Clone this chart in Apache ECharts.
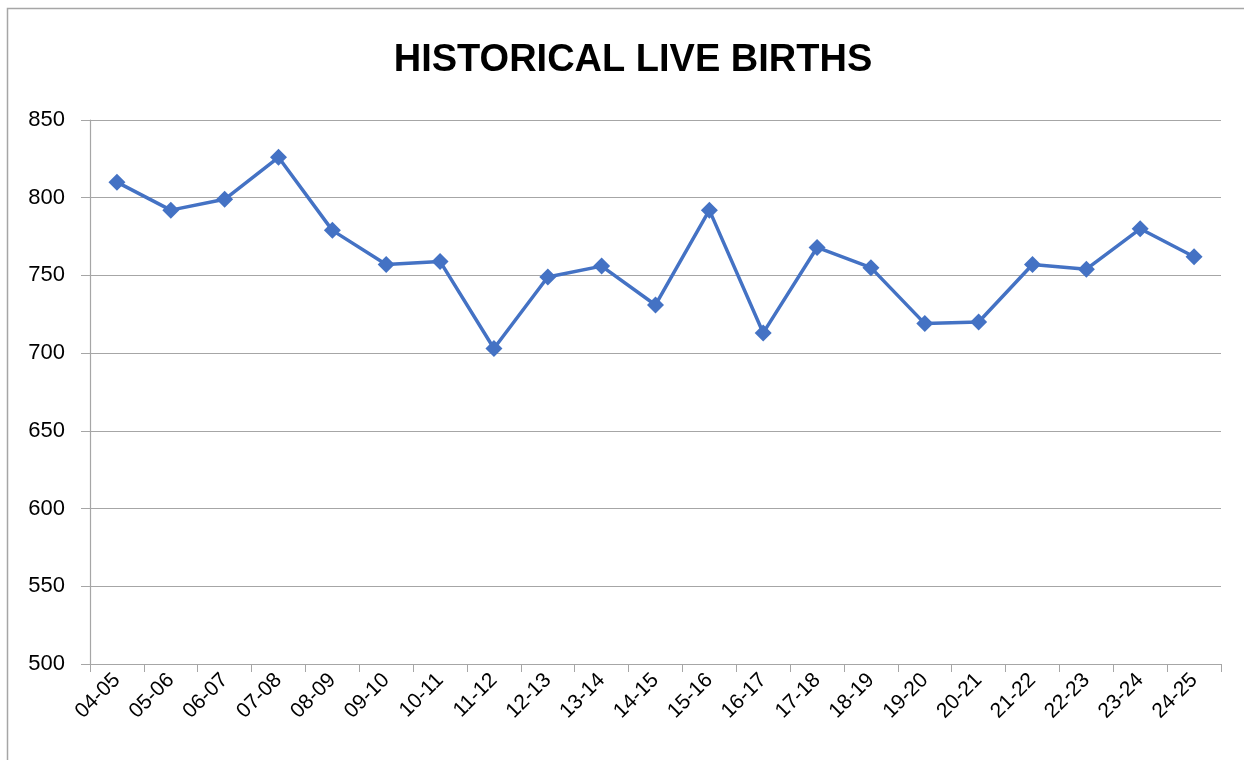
<!DOCTYPE html>
<html>
<head>
<meta charset="utf-8">
<script src="https://cdn.jsdelivr.net/npm/echarts@6/dist/echarts.min.js"></script>
<style>
  html, body { margin: 0; padding: 0; background: #fff; }
  #chart { width: 1244px; height: 760px; }
</style>
</head>
<body>
<div id="chart"></div>
<script>
// school years
const years = ['04-05', '05-06', '06-07', '07-08', '08-09', '09-10', '10-11', '11-12', '12-13', '13-14',
  '14-15', '15-16', '16-17', '17-18', '18-19', '19-20', '20-21', '21-22', '22-23', '23-24', '24-25'];
// live births per year
const births = [810, 792, 799, 826, 779, 757, 759, 703, 749, 756,
  731, 792, 713, 768, 755, 719, 720, 757, 754, 780, 762];
const yTicks = {min: 500, max: 850, step: 50};

const chart = echarts.init(document.getElementById('chart'), null, {renderer: 'canvas'});
const font = '"Liberation Sans", "Open Sans", sans-serif';

chart.setOption({
  animation: false,
  title: {
    text: 'HISTORICAL LIVE BIRTHS',
    left: 628,
    top: 37,
    textAlign: 'center',
    textStyle: {fontFamily: font, fontSize: 38, fontWeight: 'bold', color: '#000'}
  },
  graphic: [{
    type: 'rect',
    shape: {x: 7.5, y: 8.5, width: 1300, height: 800},
    style: {fill: 'none', stroke: '#a6a6a6', lineWidth: 1.5},
    silent: true
  }],
  grid: {left: 90, right: 23, top: 120, bottom: 96, containLabel: false},
  xAxis: {
    type: 'category',
    data: years,
    boundaryGap: true,
    axisLine: {lineStyle: {color: '#a6a6a6', width: 1.2}},
    axisTick: {show: true, length: 8, alignWithLabel: false, lineStyle: {color: '#a6a6a6'}},
    axisLabel: {rotate: 45, fontFamily: font, fontSize: 21, color: '#000', margin: 13, interval: 0}
  },
  yAxis: {
    type: 'value',
    min: yTicks.min,
    max: yTicks.max,
    interval: yTicks.step,
    axisLine: {show: true, lineStyle: {color: '#a6a6a6', width: 1.2}},
    axisTick: {show: true, length: 9, lineStyle: {color: '#a6a6a6'}},
    axisLabel: {fontFamily: font, fontSize: 22, color: '#000', margin: 25},
    splitLine: {lineStyle: {color: '#a6a6a6', width: 1.2}}
  },
  series: [{
    type: 'line',
    data: births,
    symbol: 'diamond',
    symbolSize: 17,
    lineStyle: {color: '#4472C4', width: 3.5},
    itemStyle: {color: '#4472C4'}
  }]
});
</script>
</body>
</html>
